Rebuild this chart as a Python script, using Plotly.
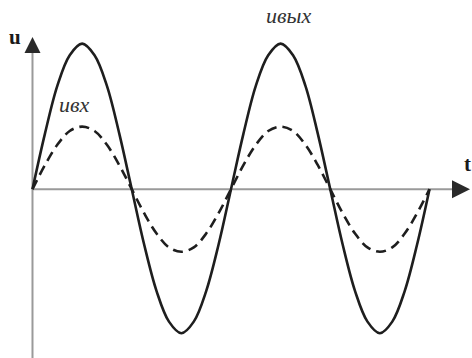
import plotly.graph_objects as go

# time in periods (1/16 period steps)
t = [0, 0.0625, 0.125, 0.1875, 0.25, 0.3125, 0.375, 0.4375, 0.5,
     0.5625, 0.625, 0.6875, 0.75, 0.8125, 0.875, 0.9375, 1.0,
     1.0625, 1.125, 1.1875, 1.25, 1.3125, 1.375, 1.4375, 1.5,
     1.5625, 1.625, 1.6875, 1.75, 1.8125, 1.875, 1.9375, 2.0]

# output voltage (solid), in units of its peak
u_out = [0, 0.38, 0.71, 0.92, 1.0, 0.92, 0.71, 0.38, 0,
         -0.38, -0.70, -0.91, -0.99, -0.91, -0.70, -0.38, 0,
         0.38, 0.71, 0.92, 1.0, 0.92, 0.71, 0.38, 0,
         -0.38, -0.70, -0.91, -0.99, -0.91, -0.70, -0.38, 0]

# input voltage (dashed)
u_in = [0, 0.165, 0.305, 0.40, 0.43, 0.40, 0.305, 0.165, 0,
        -0.165, -0.305, -0.40, -0.43, -0.40, -0.305, -0.165, 0,
        0.165, 0.305, 0.40, 0.43, 0.40, 0.305, 0.165, 0,
        -0.165, -0.305, -0.40, -0.43, -0.40, -0.305, -0.165, 0]

label_in = "u\u0432\u0445"
label_out = "u\u0432\u044b\u0445"

# axis extents (data units)
x_range = [-0.1637, 2.2141]
y_range = [-1.16, 1.30]
t_end = 2.204
u_top = 1.045

fig = go.Figure()
fig.add_trace(go.Scatter(x=t, y=u_in, mode="lines", line_shape="spline",
                         line=dict(color="#1e1e1e", width=2.6, dash="10px,6px"),
                         hoverinfo="skip"))
fig.add_trace(go.Scatter(x=t, y=u_out, mode="lines", line_shape="spline",
                         line=dict(color="#1e1e1e", width=2.6),
                         hoverinfo="skip"))

# axes lines
fig.add_shape(type="line", x0=0, x1=t_end - 0.06, y0=0, y1=0,
              line=dict(color="#9a9a9a", width=2), layer="below")
fig.add_shape(type="line", x0=0, x1=0, y0=y_range[0], y1=u_top - 0.07,
              line=dict(color="#9a9a9a", width=2), layer="below")

# arrow heads
fig.add_annotation(x=t_end, y=0, ax=-12, ay=0, showarrow=True, text="",
                   arrowhead=2, arrowsize=1.8, arrowwidth=2, arrowcolor="#2a2a2a")
fig.add_annotation(x=0, y=u_top, ax=0, ay=11, showarrow=True, text="",
                   arrowhead=2, arrowsize=1.6, arrowwidth=2, arrowcolor="#2a2a2a")

# axis labels
fig.add_annotation(x=15, y=37, text="<b>u</b>",
                   font=dict(family="Liberation Serif", size=21, color="#1a1a1a"))
fig.add_annotation(x=467, y=164, text="<b>t</b>",
                   font=dict(family="Liberation Serif", size=21, color="#1a1a1a"))

# curve labels
fig.add_annotation(x=74, y=104, text="<i>" + label_in + "</i>",
                   font=dict(family="Liberation Serif", size=22, color="#333333"))
fig.add_annotation(x=288, y=15, text="<i>" + label_out + "</i>",
                   font=dict(family="Liberation Serif", size=22, color="#333333"))

# label positions given in pixels -> paper coords
W, H = 472, 358
for a in fig.layout.annotations[2:]:
    a.update(xref="paper", yref="paper", x=a.x / W, y=1 - a.y / H,
             xanchor="center", yanchor="middle", showarrow=False)

fig.update_layout(width=W, height=H, margin=dict(l=0, r=0, t=0, b=0),
                  paper_bgcolor="white", plot_bgcolor="white", showlegend=False,
                  xaxis=dict(range=x_range, visible=False),
                  yaxis=dict(range=y_range, visible=False))

fig.write_html("out.html", config={"displayModeBar": False},
               post_script="document.body.style.margin='0';")
